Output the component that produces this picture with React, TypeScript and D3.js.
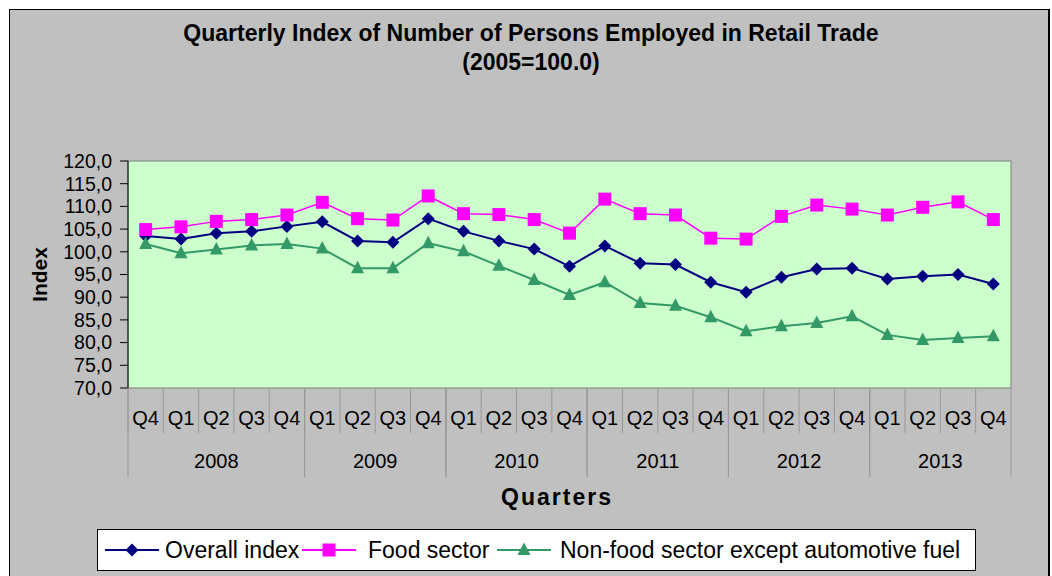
import React from "react";
import * as d3 from "d3";

const quarters = ["Q4","Q1","Q2","Q3","Q4","Q1","Q2","Q3","Q4","Q1","Q2","Q3","Q4","Q1","Q2","Q3","Q4","Q1","Q2","Q3","Q4","Q1","Q2","Q3","Q4"];
const years = ["2008","2009","2010","2011","2012","2013"];
const yearSpans = [5,4,4,4,4,4];
const overall = [103.5,102.8,104.1,104.5,105.6,106.6,102.4,102.1,107.3,104.5,102.4,100.6,96.8,101.3,97.5,97.2,93.3,91.1,94.4,96.2,96.4,94.0,94.6,95.0,92.9];
const food = [104.9,105.5,106.7,107.1,108.1,110.9,107.3,107.0,112.3,108.4,108.2,107.1,104.1,111.6,108.4,108.1,103.0,102.8,107.8,110.3,109.4,108.1,109.8,111.0,107.1];
const nonFood = [101.7,99.7,100.5,101.4,101.7,100.7,96.4,96.4,101.9,100.1,96.9,93.8,90.5,93.3,88.7,88.1,85.6,82.5,83.6,84.3,85.8,81.7,80.6,81.0,81.4];
const yTicks = [70,75,80,85,90,95,100,105,110,115,120];
const seriesNames = ["Overall index","Food sector","Non-food sector except automotive fuel"];

const FONT = "'Liberation Sans', Arial, sans-serif";

function markerPath(kind: string, cx: number, cy: number): string {
  if (kind === "diamond") {
    const r = 6.5;
    return `M${cx},${cy - r}L${cx + r},${cy}L${cx},${cy + r}L${cx - r},${cy}Z`;
  }
  if (kind === "square") {
    const h = 6.5;
    return `M${cx - h},${cy - h}H${cx + h}V${cy + h}H${cx - h}Z`;
  }
  const w = 6.5;
  return `M${cx},${cy - 7.5}L${cx + w},${cy + 5}L${cx - w},${cy + 5}Z`;
}

export default function App() {
  const W = 1052, H = 576;
  const left = 128, right = 1011, top = 161, bottom = 388;
  const x = d3.scaleBand<number>().domain(d3.range(quarters.length)).range([left, right]).padding(0);
  const y = d3.scaleLinear().domain([70, 120]).range([bottom, top]);
  const cx = (i: number) => (x(i) as number) + x.bandwidth() / 2;

  const series = [
    { name: seriesNames[0], values: overall, color: "#000080", width: 2, marker: "diamond" },
    { name: seriesNames[1], values: food, color: "#ff00ff", width: 1.5, marker: "square" },
    { name: seriesNames[2], values: nonFood, color: "#339966", width: 2, marker: "triangle" },
  ];
  const line = d3.line<number>().x((_, i) => cx(i)).y((v) => y(v));

  const yearBounds: { start: number; end: number; label: string }[] = [];
  let acc = 0;
  years.forEach((yr, k) => {
    const s = acc;
    acc += yearSpans[k];
    yearBounds.push({ start: x(s) as number, end: (x(acc - 1) as number) + x.bandwidth(), label: yr });
  });

  const legendItems = [
    { lx: 105, tx: 165, s: series[0] },
    { lx: 302, tx: 368, s: series[1] },
    { lx: 497, tx: 560, s: series[2] },
  ];

  return (
    <svg width={W} height={H} style={{ position: "absolute", left: 0, top: 0 }} fontFamily={FONT}>
      <rect x={0} y={0} width={W} height={H} fill="#ffffff" />
      <rect x={9.5} y={9.5} width={1039} height={600} fill="#c0c0c0" stroke="#000" strokeWidth={1} />
      <line x1={1049} y1={9} x2={1049} y2={H} stroke="#000" strokeWidth={2} />

      <text x={531} y={41} textAnchor="middle" fontSize={23} fontWeight="bold">Quarterly Index of Number of Persons Employed in Retail Trade</text>
      <text x={531} y={70} textAnchor="middle" fontSize={23} fontWeight="bold">(2005=100.0)</text>

      <rect x={left} y={top} width={right - left} height={bottom - top} fill="#ccffcc" stroke="#808080" strokeWidth={1} />
      <line x1={left} y1={top} x2={left} y2={bottom} stroke="#000" strokeWidth={1} />

      {yTicks.map((t) => (
        <g key={t}>
          <line x1={left - 8} x2={left} y1={y(t)} y2={y(t)} stroke="#000" />
          <text x={112} y={y(t)} dy="0.35em" textAnchor="end" fontSize={19.5}>{d3.format(".1f")(t).replace(".", ",")}</text>
        </g>
      ))}
      <text transform={`translate(47,${(top + bottom) / 2}) rotate(-90)`} textAnchor="middle" fontSize={21} fontWeight="bold">Index</text>

      {quarters.map((q, i) => (
        <g key={i}>
          <line x1={x(i) as number} x2={x(i) as number} y1={bottom} y2={433} stroke="#999999" />
          <text x={cx(i)} y={418} dy="0.35em" textAnchor="middle" fontSize={20}>{q}</text>
        </g>
      ))}
      {yearBounds.map((b) => (
        <g key={b.label}>
          <line x1={b.start} x2={b.start} y1={bottom} y2={477} stroke="#999999" />
          <line x1={b.end} x2={b.end} y1={bottom} y2={477} stroke="#999999" />
          <text x={(b.start + b.end) / 2} y={461} dy="0.35em" textAnchor="middle" fontSize={20}>{b.label}</text>
        </g>
      ))}
      <text x={556} y={497} dy="0.35em" textAnchor="middle" fontSize={23} fontWeight="bold" textLength={110} lengthAdjust="spacing">Quarters</text>

      {series.map((s) => (
        <g key={s.name}>
          <path d={line(s.values) || ""} fill="none" stroke={s.color} strokeWidth={s.width} />
          {s.values.map((v, i) => (
            <path key={i} d={markerPath(s.marker, cx(i), y(v))} fill={s.color} />
          ))}
        </g>
      ))}

      <rect x={97.5} y={529.5} width={878} height={41} fill="#ffffff" stroke="#000" strokeWidth={1} />
      {legendItems.map((it) => (
        <g key={it.s.name}>
          <line x1={it.lx} x2={it.lx + 54} y1={550} y2={550} stroke={it.s.color} strokeWidth={2} />
          <path d={markerPath(it.s.marker, it.lx + 27, 550)} fill={it.s.color} />
          <text x={it.tx} y={550} dy="0.35em" fontSize={23}>{it.s.name}</text>
        </g>
      ))}
    </svg>
  );
}
